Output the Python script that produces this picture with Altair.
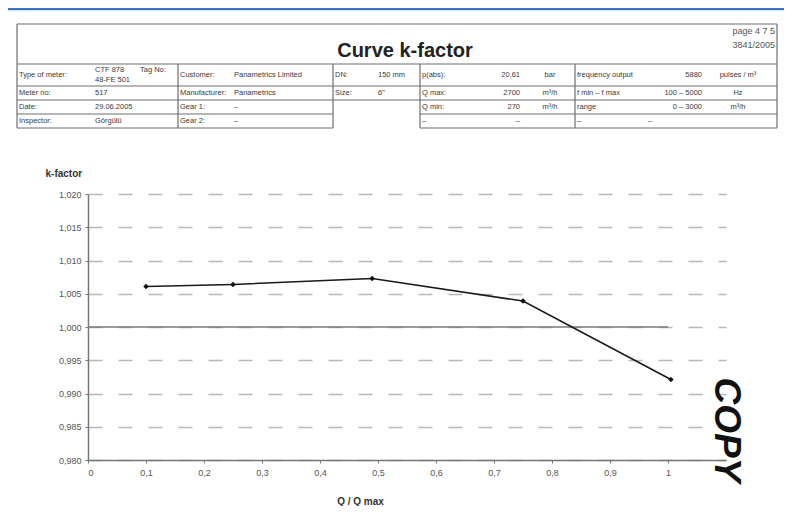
import altair as alt
import pandas as pd

# ---------------- chart data ----------------
q_ratio = [0.10, 0.25, 0.49, 0.75, 1.005]
k_factor = [1.0061, 1.0064, 1.0073, 1.0039, 0.9921]

x_ticks = [0, 0.1, 0.2, 0.3, 0.4, 0.5, 0.6, 0.7, 0.8, 0.9, 1]
y_ticks = [0.980, 0.985, 0.990, 0.995, 1.000, 1.005, 1.010, 1.015, 1.020]
ref_span = [0, 1]
ref_level = 1.000

# ---------------- header texts ----------------
doc_title = "Curve k-factor"
page_info = ["page 4 7 5", "3841/2005"]
meter_labels = ["Type of meter:", "Meter no:", "Date:", "Inspector:"]
meter_values = ["CTF 878", "517", "29.06.2005", "Görgülü"]
tag_label = "Tag No:"
tag_value = "48-FE 501"
cust_labels = ["Customer:", "Manufacturer:", "Gear 1:", "Gear 2:"]
cust_values = ["Panametrics Limited", "Panametrics", "–", "–"]
dn_labels = ["DN:", "Size:"]
dn_values = ["150 mm", '6"']
proc_labels = ["p(abs):", "Q max:", "Q min:", "–"]
proc_values = ["20,61", "2700", "270", "–"]
proc_units = ["bar", "m³/h", "m³/h", ""]
freq_labels = ["frequency output", "f min – f max", "range", "–"]
freq_values = ["5880", "100 – 5000", "0 – 3000", ""]
freq_units = ["pulses / m³", "Hz", "m³/h", ""]
freq_extra = ["", "", "", "–"]

# ---------------- layout (page pixels) ----------------
OX, OY = 88, 194            # page position of the plot origin
ROW_Y = [75, 93, 107, 121]  # row centres of the header table
FONT = "Liberation Sans"


def col(texts, x, ys=ROW_Y):
    return [dict(t=t, x=x - OX, y=y - OY) for t, y in zip(texts, ys) if t]


left_items = (
    col(meter_labels, 19)
    + col(meter_values, 95, [70, 93, 107, 121])
    + col([tag_label], 140, [70])
    + col([tag_value], 95, [80])
    + col(cust_labels, 180)
    + col(cust_values, 234)
    + col(dn_labels, 335)
    + col(dn_values, 378)
    + col(proc_labels, 422)
    + col(freq_labels, 577)
)
right_items = col(proc_values, 520) + col(freq_values, 702)
center_items = col(proc_units, 550) + col(freq_units, 738) + col(freq_extra, 650)
page_items = col(page_info, 775, [31, 45])
title_items = col([doc_title], 405, [51])

rules = [
    (17, 24, 777, 24), (17, 24, 17, 128), (777, 24, 777, 128), (17, 64, 777, 64),
    (17, 86, 333, 86), (17, 100, 333, 100), (17, 114, 333, 114), (17, 128, 333, 128),
    (178, 64, 178, 128), (333, 64, 333, 128),
    (333, 86, 420, 86), (333, 100, 420, 100),
    (420, 64, 420, 128), (575, 64, 575, 128),
    (420, 86, 777, 86), (420, 100, 777, 100), (420, 114, 777, 114), (420, 128, 777, 128),
]
rule_df = pd.DataFrame(
    [dict(x=a - OX, y=b - OY, x2=c - OX, y2=d - OY) for a, b, c, d in rules]
)
blue_df = pd.DataFrame([dict(x=8 - OX, y=9 - OY, x2=792 - OX, y2=9 - OY)])


def px(field):
    return alt.X(f"{field}:Q", scale=None, axis=None)


def py(field):
    return alt.Y(f"{field}:Q", scale=None, axis=None)


def text_layer(items, align, size, weight="normal", color="#3a3a3a"):
    return alt.Chart(pd.DataFrame(items)).mark_text(
        align=align, baseline="middle", fontSize=size, fontWeight=weight,
        font=FONT, color=color
    ).encode(x=px("x"), y=py("y"), text="t:N")


header_rules = alt.Chart(rule_df).mark_rule(color="#6e6e6e", strokeWidth=1.2).encode(
    x=px("x"), y=py("y"), x2="x2:Q", y2="y2:Q"
)
blue_rule = alt.Chart(blue_df).mark_rule(color="#3b74c4", strokeWidth=2.5).encode(
    x=px("x"), y=py("y"), x2="x2:Q", y2="y2:Q"
)

# ---------------- plot ----------------
data = pd.DataFrame({"q": q_ratio, "k": k_factor})
ref_df = pd.DataFrame({"q": [ref_span[0]], "q2": [ref_span[1]], "k": [ref_level]})

x_scale = alt.Scale(domain=[0, 1.1], nice=False)
y_scale = alt.Scale(domain=[0.98, 1.02], nice=False, zero=False)

x_axis = alt.Axis(
    values=x_ticks,
    labelExpr="datum.value == 0 ? '0' : datum.value == 1 ? '1' : replace(format(datum.value, '.1f'), '.', ',')",
    grid=False, domainColor="#777", domainWidth=1.5, tickColor="#777", tickSize=3,
    labelFontSize=9, labelColor="#555", labelFont=FONT, labelPadding=5,
    title="Q / Q max", titleFontSize=10, titleFontWeight="bold", titleColor="#333",
    titleFont=FONT, titleX=272, titleY=41, titleBaseline="middle", titleAlign="center",
)
y_axis = alt.Axis(
    values=y_ticks,
    labelExpr="replace(format(datum.value, '.3f'), '.', ',')",
    grid=True, gridDash=[14, 16], gridColor="#b8b8b8", gridWidth=1.3,
    domainColor="#777", domainWidth=1.5, tickColor="#777", tickSize=3,
    labelFontSize=9, labelColor="#555", labelFont=FONT, labelPadding=4,
    title="k-factor", titleAngle=0, titleAlign="left", titleBaseline="middle",
    titleX=-43, titleY=-21, titleFontSize=10, titleFontWeight="bold",
    titleColor="#333", titleFont=FONT,
)

x_enc = alt.X("q:Q", scale=x_scale, axis=x_axis)
y_enc = alt.Y("k:Q", scale=y_scale, axis=y_axis)

curve = alt.Chart(data).mark_line(color="#1a1a1a", strokeWidth=1.6).encode(x=x_enc, y=y_enc)
ref_line = alt.Chart(ref_df).mark_rule(color="#7a7a7a", strokeWidth=1.6).encode(
    x=x_enc, x2="q2:Q", y=y_enc
)
marks = alt.Chart(data).mark_point(shape="diamond", filled=True, size=30, color="#111", opacity=1).encode(
    x=x_enc, y=y_enc
)
stamp = alt.Chart(pd.DataFrame({"t": ["COPY"]})).mark_text(
    angle=90, align="center", baseline="middle", fontSize=37, fontWeight="bold",
    fontStyle="italic", font=FONT, color="#111"
).encode(x=alt.value(638), y=alt.value(236), text="t:N")

chart = alt.layer(
    ref_line, curve, marks, stamp,
    header_rules, blue_rule,
    text_layer(left_items, "left", 7.5),
    text_layer(right_items, "right", 7.5),
    text_layer(center_items, "center", 7.5),
    text_layer(page_items, "right", 9, color="#555"),
    text_layer(title_items, "center", 20, "bold", "#222"),
).properties(
    width=638, height=266,
    autosize=alt.AutoSizeParams(type="none"),
    padding={"left": 80, "top": 186, "right": 58, "bottom": 46},
    view=alt.ViewBackground(stroke="transparent", strokeWidth=0),
).configure_view(stroke="transparent", strokeWidth=0, strokeOpacity=0).configure(background="white")

chart.save("out.html", embed_options={"renderer": "svg", "actions": False})
